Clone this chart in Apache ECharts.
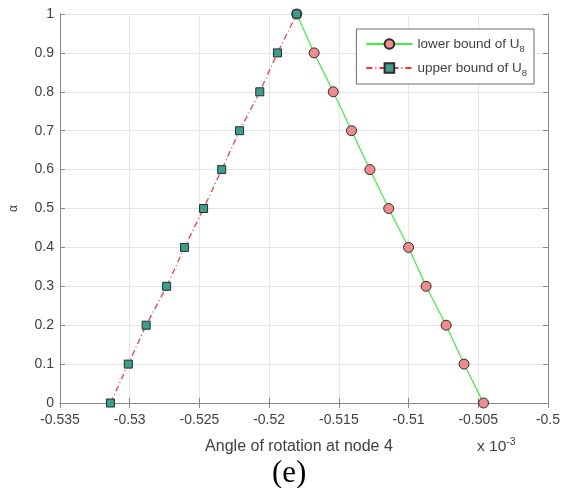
<!DOCTYPE html>
<html><head><meta charset="utf-8">
<script src="https://cdn.jsdelivr.net/npm/echarts@6/dist/echarts.min.js"></script>
<style>html,body{margin:0;padding:0;background:#fff}#c{width:563px;height:488px}</style>
</head><body><div id="c"></div>
<script>
var alphaLevels = [0, 0.1, 0.2, 0.3, 0.4, 0.5, 0.6, 0.7, 0.8, 0.9, 1];
var lowerBound = [-0.50462, -0.50602, -0.5073, -0.50874, -0.51, -0.51142, -0.51277, -0.51409, -0.5154, -0.51677, -0.51802];
var upperBound = [-0.53138, -0.5301, -0.52882, -0.52735, -0.52607, -0.5247, -0.5234, -0.52212, -0.52067, -0.5194, -0.51802];
var xTicks = [-0.535, -0.53, -0.525, -0.52, -0.515, -0.51, -0.505, -0.5];

var font = 'Liberation Sans, Arial, sans-serif';
var txt = '#404040';
var chart = echarts.init(document.getElementById('c'));
function pairs(xs) { return xs.map(function (x, i) { return [x, alphaLevels[i]]; }); }
var axisLineStyle = { color: '#8a8a8a', width: 1 };
chart.setOption({
  animation: false,
  grid: { left: 56, right: 13, top: 14, bottom: 85, show: false },
  legend: {
    right: 29, top: 29, orient: 'vertical',
    itemWidth: 46, itemHeight: 12, itemGap: 7,
    padding: [8, 7, 6, 9],
    borderColor: '#6a6a6a', borderWidth: 1, backgroundColor: '#fff',
    textStyle: { fontFamily: font, fontSize: 13.5, color: txt,
      rich: { a: { fontFamily: font, fontSize: 13.5, color: txt },
              s: { fontFamily: font, fontSize: 9.5, color: txt, verticalAlign: 'bottom', padding: [10, 0, 0, 0] } } },
    formatter: function (n) { return n === 'lower' ? '{a|lower bound of U}{s|8}' : '{a|upper bound of U}{s|8}'; },
    data: ['lower', 'upper']
  },
  xAxis: [{
    type: 'value', min: -0.535, max: -0.5, interval: 0.005,
    name: 'Angle of rotation at node 4', nameLocation: 'middle', nameGap: 36,
    nameTextStyle: { fontFamily: font, fontSize: 16, color: txt, padding: [0, 10, 0, 0] },
    axisLine: { lineStyle: axisLineStyle }, axisTick: { inside: true, length: 5, lineStyle: axisLineStyle },
    axisLabel: { fontFamily: font, fontSize: 14, color: txt, margin: 10, showMinLabel: true, showMaxLabel: true },
    splitLine: { show: true, lineStyle: { color: '#e6e6e6' } }
  }, {
    type: 'value', position: 'top', min: -0.535, max: -0.5, interval: 0.005,
    axisLine: { show: true, lineStyle: axisLineStyle }, axisTick: { inside: true, length: 5, lineStyle: axisLineStyle },
    axisLabel: { show: false }, splitLine: { show: false }
  }],
  yAxis: [{
    type: 'value', min: 0, max: 1, interval: 0.1,
    name: 'α', nameLocation: 'middle', nameGap: 40, nameRotate: 90,
    nameTextStyle: { fontFamily: font, fontSize: 12, color: txt },
    axisLine: { show: true, lineStyle: axisLineStyle }, axisTick: { show: true, inside: true, length: 5, lineStyle: axisLineStyle },
    axisLabel: { fontFamily: font, fontSize: 14, color: txt, margin: 6 },
    splitLine: { show: true, lineStyle: { color: '#e6e6e6' } }
  }, {
    type: 'value', position: 'right', min: 0, max: 1, interval: 0.1,
    axisLine: { show: true, lineStyle: axisLineStyle }, axisTick: { show: true, inside: true, length: 5, lineStyle: axisLineStyle },
    axisLabel: { show: false }, splitLine: { show: false }
  }],
  series: [{
    name: 'lower', type: 'line', data: pairs(lowerBound),
    symbol: 'circle', symbolSize: 10,
    lineStyle: { color: '#3cf03c', width: 1.2 },
    itemStyle: { color: '#f28b8b', borderColor: '#2a2a2a', borderWidth: 1 },
    z: 3
  }, {
    name: 'upper', type: 'line', data: pairs(upperBound),
    symbol: 'rect', symbolSize: 8,
    lineStyle: { color: '#ff3030', width: 1.2, type: [6, 3, 1, 3] },
    itemStyle: { color: '#3aa08c', borderColor: '#2a2a2a', borderWidth: 1 },
    z: 4
  }],
  graphic: [{
    type: 'text', left: 477, top: 437,
    style: { text: '{a|x 10}{s|-3}', rich: { a: { fontFamily: font, fontSize: 15.5, fill: txt }, s: { fontFamily: font, fontSize: 10.5, fill: txt, verticalAlign: 'top', padding: [0, 0, 9, 0] } } }
  }, {
    type: 'text', left: 272, top: 458,
    style: { text: '(e)', fontFamily: 'Liberation Serif, Times New Roman, serif', fontSize: 31, fill: '#000' }
  }]
});
</script></body></html>
